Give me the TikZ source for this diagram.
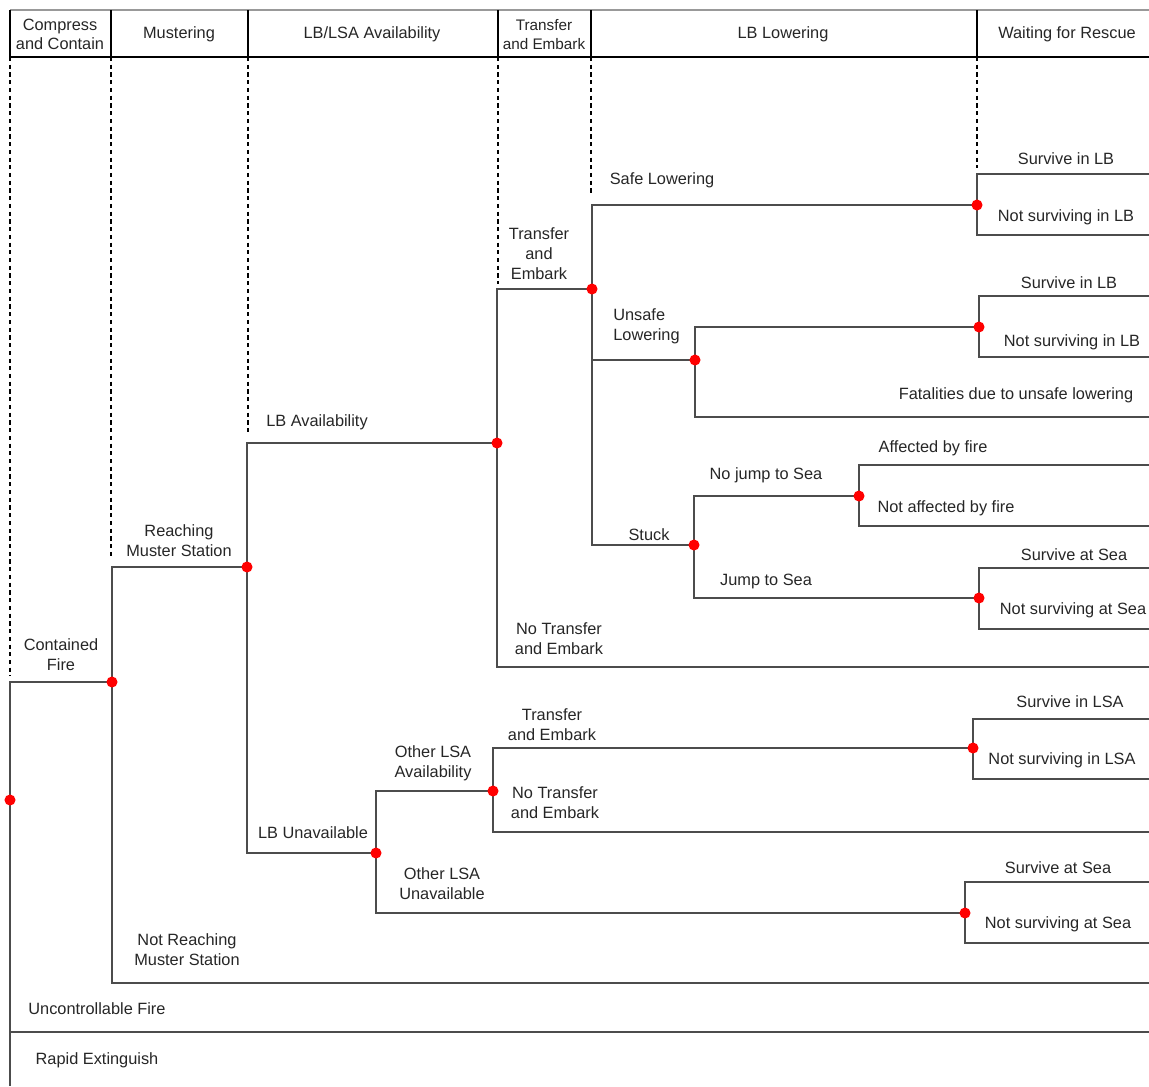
\documentclass[tikz,border=0pt]{standalone}
\usepackage{fontspec}
\setmainfont{Liberation Sans}
\begin{document}
\begin{tikzpicture}[x=0.02cm,y=-0.02cm,
  br/.style={draw=black!70,line width=0.6pt},
  hdr/.style={draw=black,line width=0.8pt},
  dsh/.style={draw=black,line width=0.8pt,dash pattern=on 2.4pt off 2pt},
  lbl/.style={inner sep=0pt,align=center,text=black!85,yshift=-0.8pt,font=\fontsize{9.3}{11.3}\selectfont},
  dot/.style={fill=red,draw=none,circle,minimum size=6.3pt,inner sep=0pt}]
\useasboundingbox (0,0) rectangle (1149,1086);
% header
\draw[draw=black!40,line width=0.8pt] (10,10) -- (1149,10);
\draw[hdr] (10,57) -- (1149,57);
\foreach \x in {10,111,248,498,591,977} \draw[hdr] (\x,10) -- (\x,57);
\node[lbl] (h1) at (60,33) {Compress\\and Contain};
\node[lbl] (h2) at (179,33) {Mustering};
\node[lbl] (h3) at (372,33) {LB/LSA Availability};
\node[lbl,font=\fontsize{8.7}{11}\selectfont] (h4) at (544,33) {Transfer\\and Embark};
\node[lbl] (h5) at (783,33) {LB Lowering};
\node[lbl] (h6) at (1067,33) {Waiting for Rescue};
% dashed
\draw[dsh] (10,57) -- (10,676);
\draw[dsh] (111,57) -- (111,557);
\draw[dsh] (248,57) -- (248,434);
\draw[dsh] (498,57) -- (498,284);
\draw[dsh] (591,57) -- (591,195);
\draw[dsh] (977,57) -- (977,168);
% coordinates
\coordinate (n0) at (10,800);
\coordinate (n1) at (112,682);
\coordinate (n2) at (247,567);
\coordinate (n3) at (497,443);
\coordinate (n4) at (376,853);
\coordinate (n5) at (592,289);
\coordinate (n6) at (977,205);
\coordinate (n7) at (695,360);
\coordinate (n8) at (694,545);
\coordinate (n9) at (979,327);
\coordinate (n10) at (859,496);
\coordinate (n11) at (979,598);
\coordinate (n12) at (493,791);
\coordinate (n13) at (965,913);
\coordinate (n14) at (973,748);
\coordinate (eRap) at (10,1086);
\coordinate (eUnc) at (1149,1032);
\coordinate (eNRM) at (1149,983);
\coordinate (eNTE) at (1149,667);
\coordinate (e6a) at (1149,174);
\coordinate (e6b) at (1149,235);
\coordinate (e7b) at (1149,417);
\coordinate (e9a) at (1149,296);
\coordinate (e9b) at (1149,357);
\coordinate (e10a) at (1149,465);
\coordinate (e10b) at (1149,526);
\coordinate (e11a) at (1149,568);
\coordinate (e11b) at (1149,629);
\coordinate (e12b) at (1149,832);
\coordinate (e14a) at (1149,719);
\coordinate (e14b) at (1149,779);
\coordinate (e13a) at (1149,882);
\coordinate (e13b) at (1149,943);
% branches
\draw[br] (n0) |- (n1);
\draw[br] (n0) |- (eUnc);
\draw[br] (n0) -- (eRap);
\draw[br] (n1) |- (n2);
\draw[br] (n1) |- (eNRM);
\draw[br] (n2) |- (n3);
\draw[br] (n2) |- (n4);
\draw[br] (n3) |- (n5);
\draw[br] (n3) |- (eNTE);
\draw[br] (n5) |- (n6);
\draw[br] (n5) |- (n7);
\draw[br] (n5) |- (n8);
\draw[br] (n6) |- (e6a);
\draw[br] (n6) |- (e6b);
\draw[br] (n7) |- (n9);
\draw[br] (n7) |- (e7b);
\draw[br] (n9) |- (e9a);
\draw[br] (n9) |- (e9b);
\draw[br] (n8) |- (n10);
\draw[br] (n8) |- (n11);
\draw[br] (n10) |- (e10a);
\draw[br] (n10) |- (e10b);
\draw[br] (n11) |- (e11a);
\draw[br] (n11) |- (e11b);
\draw[br] (n4) |- (n12);
\draw[br] (n4) |- (n13);
\draw[br] (n12) |- (n14);
\draw[br] (n12) |- (e12b);
\draw[br] (n14) |- (e14a);
\draw[br] (n14) |- (e14b);
\draw[br] (n13) |- (e13a);
\draw[br] (n13) |- (e13b);
% labels
\node[lbl] (l1) at (61,653) {Contained\\Fire};
\node[lbl] (l2) at (179,539) {Reaching\\Muster Station};
\node[lbl] (l3) at (187,948) {Not Reaching\\Muster Station};
\node[lbl] (l4) at (97,1007) {Uncontrollable Fire};
\node[lbl] (l5) at (97,1059) {Rapid Extinguish};
\node[lbl] (l6) at (317,421) {LB Availability};
\node[lbl] (l7) at (313,831) {LB Unavailable};
\node[lbl] (l8) at (539,252) {Transfer\\and\\Embark};
\node[lbl] (l9) at (559,637) {No Transfer\\and Embark};
\node[lbl] (l10) at (662,179) {Safe Lowering};
\node[lbl,align=left,anchor=west] (l11) at (613,325) {Unsafe\\Lowering};
\node[lbl] (l12) at (649,533) {Stuck};
\node[lbl] (l13) at (766,474) {No jump to Sea};
\node[lbl] (l14) at (766,580) {Jump to Sea};
\node[lbl] (l15) at (933,447) {Affected by fire};
\node[lbl] (l16) at (946,507) {Not affected by fire};
\node[lbl] (l17) at (1074,553) {Survive at Sea};
\node[lbl] (l18) at (1073,609) {Not surviving at Sea};
\node[lbl] (l19) at (1066,157) {Survive in LB};
\node[lbl] (l20) at (1066,216) {Not surviving in LB};
\node[lbl] (l21) at (1069,281) {Survive in LB};
\node[lbl] (l22) at (1072,341) {Not surviving in LB};
\node[lbl] (l23) at (1016,394) {Fatalities due to unsafe lowering};
\node[lbl] (l24) at (433,762) {Other LSA\\Availability};
\node[lbl] (l25) at (552,723) {Transfer\\and Embark};
\node[lbl] (l26) at (555,801) {No Transfer\\and Embark};
\node[lbl] (l27) at (1070,700) {Survive in LSA};
\node[lbl] (l28) at (1062,759) {Not surviving in LSA};
\node[lbl] (l29) at (442,882) {Other LSA\\Unavailable};
\node[lbl] (l30) at (1058,866) {Survive at Sea};
\node[lbl] (l31) at (1058,923) {Not surviving at Sea};
% dots
\foreach \n in {n0,n1,n2,n3,n4,n5,n6,n7,n8,n9,n10,n11,n12,n13,n14}
  \node[dot] at (\n) {};
\end{tikzpicture}
\end{document}
